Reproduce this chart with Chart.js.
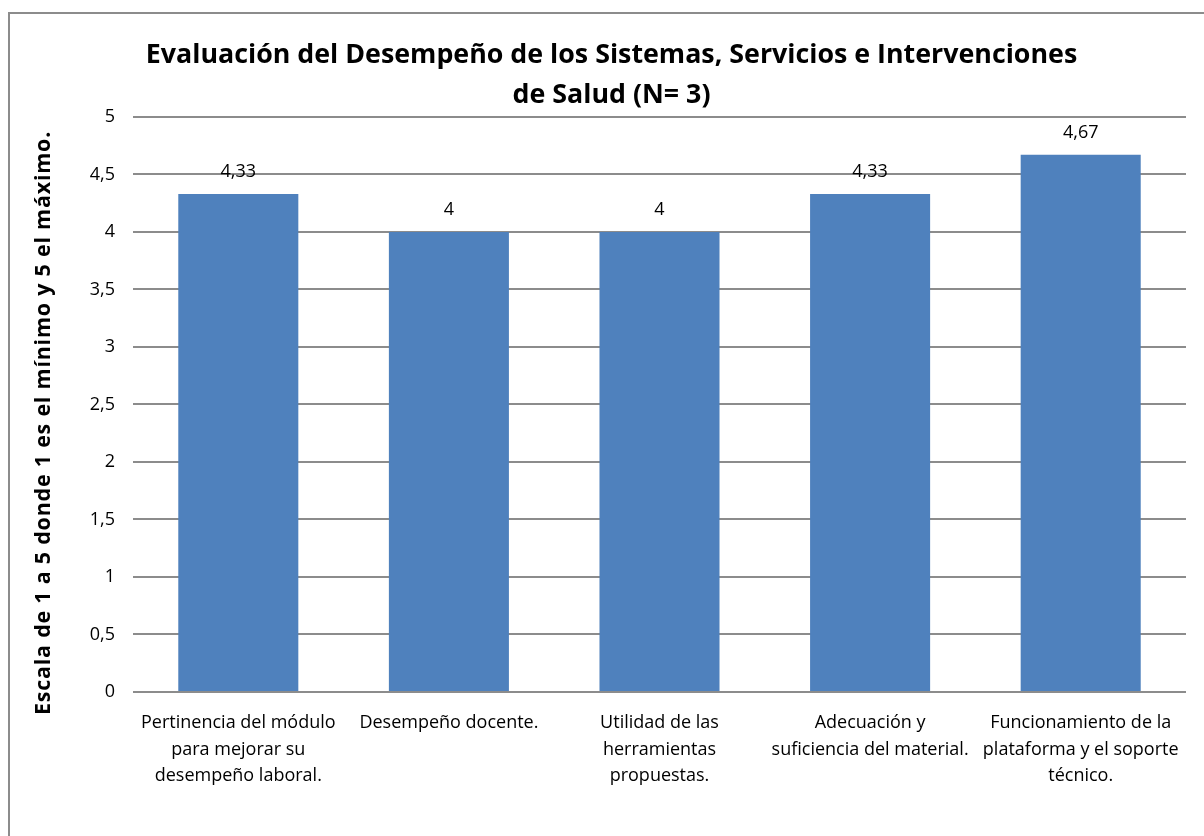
<!DOCTYPE html>
<html>
<head>
<meta charset="utf-8">
<script src="https://cdn.jsdelivr.net/npm/chart.js@4"></script>
<style>
  html, body { margin: 0; padding: 0; background: #fff; overflow: hidden; }
  #wrap { position: relative; width: 1204px; height: 836px; }
  #frame { position: absolute; left: 8px; top: 12px; width: 1300px; height: 900px; border: 2px solid #8c8c8c; }
  canvas { position: absolute; left: 0; top: 0; }
</style>
</head>
<body>
<div id="wrap">
  <div id="frame"></div>
  <canvas id="chart" width="1204" height="836"></canvas>
</div>
<script>
const categories = [
  ["Pertinencia del módulo", "para mejorar su", "desempeño laboral."],
  ["Desempeño docente."],
  ["Utilidad de las", "herramientas", "propuestas."],
  ["Adecuación y", "suficiencia del material."],
  ["Funcionamiento de la", "plataforma y el soporte", "técnico."]
];
const scores = [4.33, 4, 4, 4.33, 4.67];
const titleLines = ["Evaluación del Desempeño de los Sistemas, Servicios e Intervenciones", "de Salud (N= 3)"];
const yTitle = "Escala de 1 a 5 donde 1 es el mínimo y 5 el máximo.";

const FONT = "'Open Sans'";
const comma = v => String(v).replace(".", ",");

// value labels above each bar + rotated axis title
const labelsPlugin = {
  id: "barLabels",
  afterDatasetsDraw(chart) {
    const ctx = chart.ctx;
    const meta = chart.getDatasetMeta(0);
    ctx.save();
    ctx.font = "18px " + FONT;
    ctx.fillStyle = "#000";
    ctx.textAlign = "center";
    ctx.textBaseline = "middle";
    meta.data.forEach((bar, i) => {
      ctx.fillText(comma(scores[i]), bar.x, bar.y - 22);
    });
    ctx.restore();
  },
  afterDraw(chart) {
    const ctx = chart.ctx;
    ctx.save();
    ctx.translate(44, 423);
    ctx.rotate(-Math.PI / 2);
    ctx.font = "bold 21.5px " + FONT;
    const natural = ctx.measureText(yTitle).width;
    if ("letterSpacing" in ctx) ctx.letterSpacing = Math.max(0, (584 - natural) / yTitle.length).toFixed(2) + "px";
    ctx.fillStyle = "#000";
    ctx.textAlign = "center";
    ctx.textBaseline = "middle";
    ctx.fillText(yTitle, 0, 0);
    ctx.restore();
  }
};

new Chart(document.getElementById("chart"), {
  type: "bar",
  data: {
    labels: categories,
    datasets: [{
      data: scores,
      backgroundColor: "#4f81bd",
      barPercentage: 0.57,
      categoryPercentage: 1
    }]
  },
  options: {
    responsive: false,
    animation: false,
    layout: { padding: { left: 37, right: 18, top: 0, bottom: 0 } },
    plugins: {
      legend: { display: false },
      tooltip: { enabled: false },
      title: {
        display: true,
        text: titleLines,
        color: "#000",
        font: { family: FONT, size: 26.8, weight: "bold", lineHeight: 1.49 },
        padding: { top: 35, bottom: 2 }
      }
    },
    scales: {
      x: {
        grid: { display: false },
        border: { display: false },
        ticks: { color: "#000", font: { family: FONT, size: 18, lineHeight: 1.47 }, padding: 10, maxRotation: 0, autoSkip: false },
        afterFit: s => { s.height = 144; }
      },
      y: {
        min: 0,
        max: 5,
        ticks: { stepSize: 0.5, color: "#000", font: { family: FONT, size: 18 }, padding: 18, callback: v => comma(v) },
        grid: { color: "#8c8c8c", lineWidth: 2, drawTicks: false },
        border: { display: false },
        afterFit: s => { s.width = 96; }
      }
    }
  },
  plugins: [labelsPlugin]
});
</script>
</body>
</html>
